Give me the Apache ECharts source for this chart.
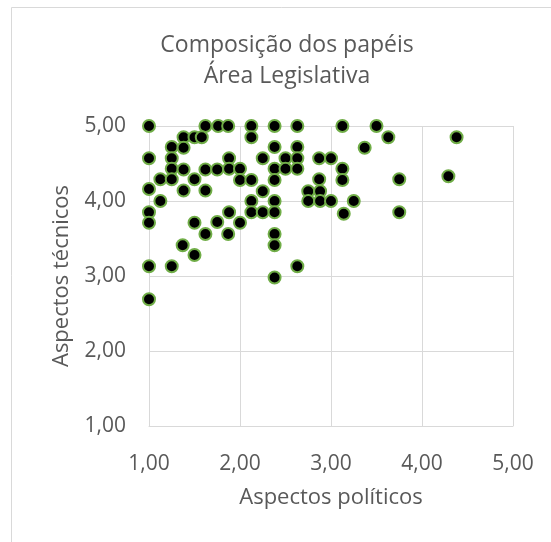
<!DOCTYPE html>
<html>
<head>
<meta charset="utf-8">
<script src="https://cdn.jsdelivr.net/npm/echarts@6/dist/echarts.min.js"></script>
<style>
  html, body { margin: 0; padding: 0; background: #ffffff; }
  #chart { width: 551px; height: 542px; }
</style>
</head>
<body>
<div id="chart"></div>
<script>
// Scores per respondent: political aspects (x) against technical aspects (y)
const politicos = [
  1.00, 1.62, 1.76, 1.87, 1.38, 1.50, 1.58, 1.25, 1.38, 1.00,
  1.25, 1.25, 1.38, 1.62, 1.75, 1.125, 1.25, 1.50, 1.00, 1.38,
  1.62, 1.125, 1.00, 1.00, 1.50, 1.75, 1.62, 1.87, 1.37, 1.50,
  1.00, 1.25, 1.00,
  2.125, 2.38, 2.63, 3.125, 2.125, 3.37, 2.38, 2.63, 1.88, 2.25,
  2.50, 2.63, 2.87, 3.00, 1.88, 2.00, 2.38, 2.50, 2.63, 3.125,
  2.00, 2.125, 2.38, 2.87, 3.125, 2.25, 2.75, 2.88, 2.125, 2.38,
  2.75, 2.88, 3.00, 3.25, 1.88, 2.125, 2.25, 2.38, 3.14, 2.00,
  2.38, 2.38, 2.63, 2.38,
  3.50, 3.63, 4.38, 3.75, 4.29, 3.75
];
const tecnicos = [
  5.00, 5.00, 5.00, 5.00, 4.85, 4.85, 4.85, 4.72, 4.71, 4.57,
  4.57, 4.43, 4.42, 4.42, 4.42, 4.29, 4.29, 4.29, 4.16, 4.14,
  4.14, 4.00, 3.85, 3.71, 3.71, 3.72, 3.56, 3.56, 3.41, 3.28,
  3.13, 3.13, 2.69,
  5.00, 5.00, 5.00, 5.00, 4.85, 4.71, 4.72, 4.72, 4.57, 4.57,
  4.57, 4.57, 4.57, 4.57, 4.43, 4.43, 4.43, 4.43, 4.43, 4.43,
  4.28, 4.28, 4.28, 4.29, 4.28, 4.13, 4.13, 4.13, 4.00, 4.00,
  4.00, 4.00, 4.00, 4.00, 3.85, 3.85, 3.85, 3.85, 3.83, 3.71,
  3.56, 3.41, 3.13, 2.98,
  5.00, 4.85, 4.85, 4.29, 4.33, 3.85
];
const ticks = [1, 2, 3, 4, 5];

const pontos = politicos.map((x, i) => [x, tecnicos[i]]);
const fmt = v => v.toFixed(2).replace('.', ',');

const FONT = 'Open Sans';
const TEXT = '#595959';
const GRID = '#D9D9D9';

const chart = echarts.init(document.getElementById('chart'), null, { renderer: 'canvas' });
chart.setOption({
  backgroundColor: '#ffffff',
  animation: false,
  graphic: [
    {
      type: 'rect',
      shape: { x: 11.5, y: 7.5, width: 600, height: 600 },
      style: { fill: 'none', stroke: GRID, lineWidth: 1 },
      silent: true
    },
    {
      type: 'text',
      x: 287, y: 30,
      style: {
        text: 'Composição dos papéis\nÁrea Legislativa',
        fontFamily: FONT, fontSize: 23, lineHeight: 31,
        fill: TEXT, align: 'center', verticalAlign: 'top'
      }
    }
  ],
  grid: { left: 149, right: 38, top: 126, bottom: 116, containLabel: false },
  xAxis: {
    type: 'value', min: ticks[0], max: ticks[ticks.length - 1], interval: 1,
    name: 'Aspectos políticos', nameLocation: 'middle', nameGap: 61,
    nameTextStyle: { fontFamily: FONT, fontSize: 22, color: TEXT },
    axisLine: { show: true, lineStyle: { color: GRID, width: 1 } },
    axisTick: { show: false },
    axisLabel: { fontFamily: FONT, fontSize: 21, color: TEXT, margin: 28, formatter: fmt },
    splitLine: { show: true, lineStyle: { color: GRID, width: 1 } }
  },
  yAxis: {
    type: 'value', min: ticks[0], max: ticks[ticks.length - 1], interval: 1,
    name: 'Aspectos técnicos', nameLocation: 'middle', nameGap: 76,
    nameTextStyle: { fontFamily: FONT, fontSize: 22, color: TEXT },
    axisLine: { show: true, lineStyle: { color: GRID, width: 1 } },
    axisTick: { show: false },
    axisLabel: { fontFamily: FONT, fontSize: 21, color: TEXT, margin: 23, formatter: fmt },
    splitLine: { show: true, lineStyle: { color: GRID, width: 1 } }
  },
  series: [{
    type: 'scatter',
    data: pontos,
    symbol: 'circle',
    symbolSize: 12,
    itemStyle: { color: '#000000', borderColor: '#70AD47', borderWidth: 2, opacity: 1 },
    emphasis: { disabled: true }
  }]
});
</script>
</body>
</html>
